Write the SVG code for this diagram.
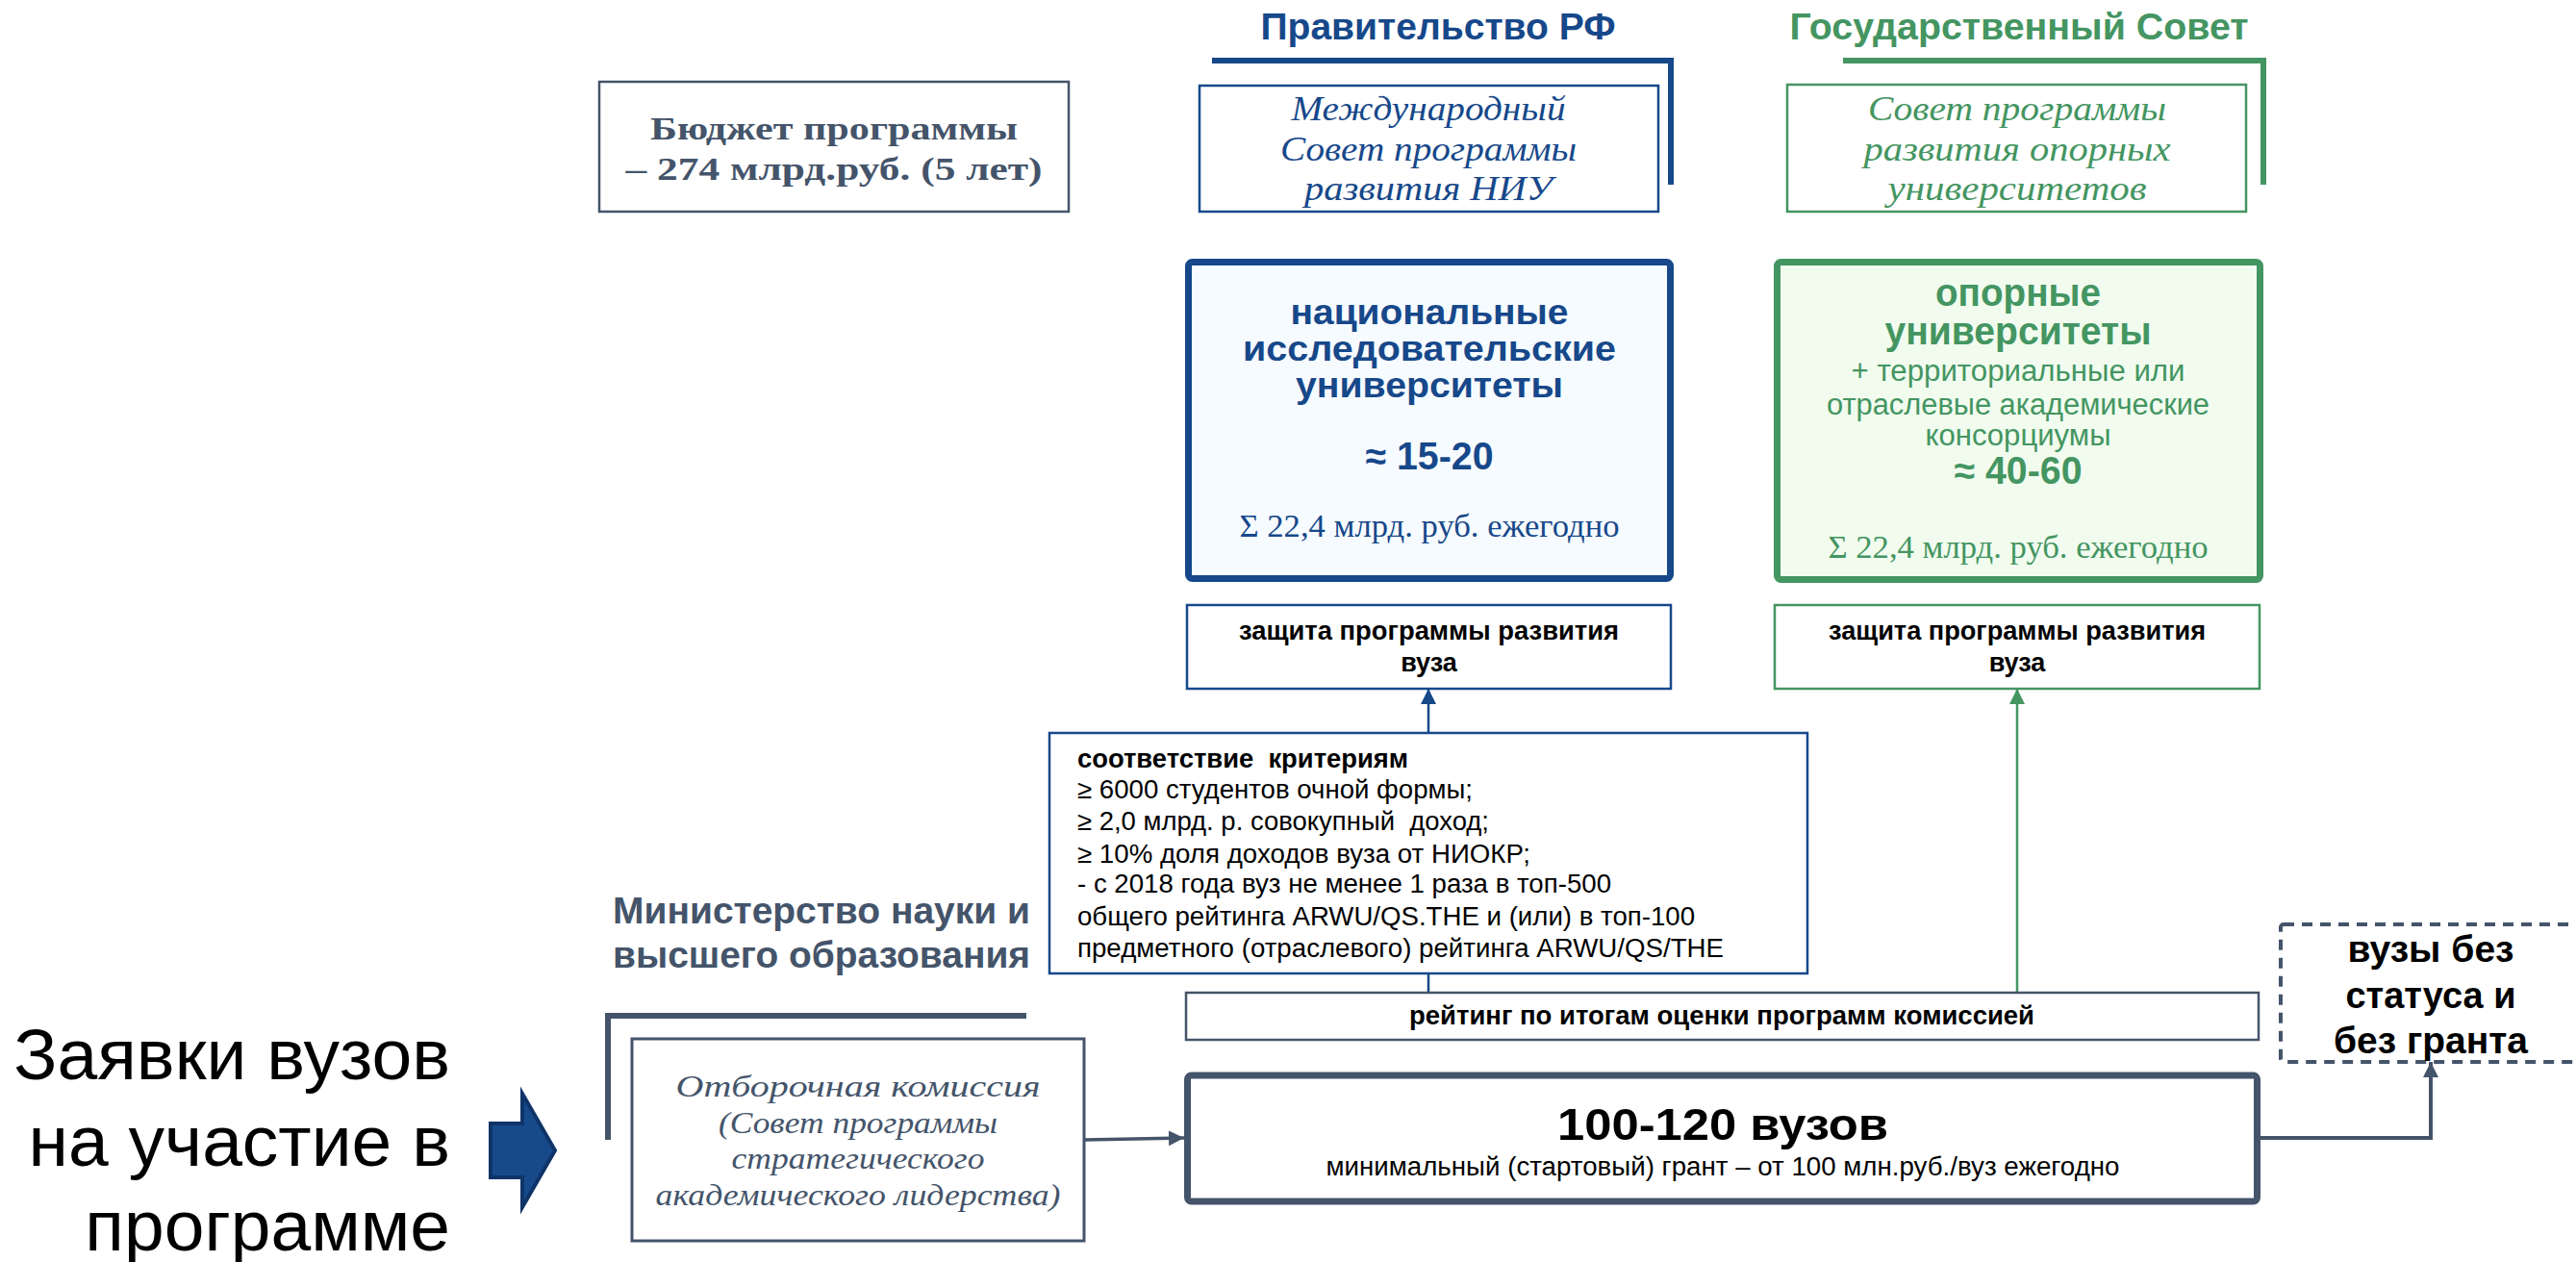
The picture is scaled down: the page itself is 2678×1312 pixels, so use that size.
<svg xmlns="http://www.w3.org/2000/svg" width="2678" height="1312" viewBox="0 0 2678 1312">
<style>
.sans{font-family:"Liberation Sans",Arial,sans-serif}
.serif{font-family:"Liberation Serif","Times New Roman",serif}
.b{font-weight:bold}
.it{font-style:italic}
.c{text-anchor:middle}
.blue{fill:#16488a}
.green{fill:#449561}
.grey{fill:#44546a}
.blk{fill:#000}
.box{fill:#fff}
</style>
<defs>
<marker id="ahBlue" viewBox="0 0 16 16" refX="16" refY="8" markerWidth="16" markerHeight="16" markerUnits="userSpaceOnUse" orient="auto"><path d="M0,0 L16,8 L0,16 z" fill="#16488a"/></marker>
<marker id="ahGreen" viewBox="0 0 16 16" refX="16" refY="8" markerWidth="16" markerHeight="16" markerUnits="userSpaceOnUse" orient="auto"><path d="M0,0 L16,8 L0,16 z" fill="#449561"/></marker>
<marker id="ahGrey" viewBox="0 0 16 16" refX="16" refY="8" markerWidth="16" markerHeight="16" markerUnits="userSpaceOnUse" orient="auto"><path d="M0,0 L16,8 L0,16 z" fill="#44546a"/></marker>
</defs>
<rect width="2678" height="1312" fill="#fff"/>

<g id="connectors" fill="none">
<line x1="1485" y1="1032" x2="1485" y2="1012" stroke="#16488a" stroke-width="2.5"/>
<line x1="1485" y1="762" x2="1485" y2="716" stroke="#16488a" stroke-width="2.5" marker-end="url(#ahBlue)"/>
<line x1="2097" y1="1032" x2="2097" y2="716" stroke="#449561" stroke-width="2.5" marker-end="url(#ahGreen)"/>
<line x1="1127" y1="1185" x2="1231" y2="1183" stroke="#44546a" stroke-width="3.5" marker-end="url(#ahGrey)"/>
<polyline points="2350,1183 2527,1183 2527,1104" stroke="#44546a" stroke-width="4" marker-end="url(#ahGrey)"/>
</g>

<g id="budget">
<rect x="623" y="85" width="488" height="135" class="box" stroke="#44546a" stroke-width="2.5"/>
<text class="serif b c grey" font-size="34" x="867" y="145" textLength="382" lengthAdjust="spacingAndGlyphs">Бюджет программы</text>
<text class="serif b c grey" font-size="34" x="867" y="187" textLength="433" lengthAdjust="spacingAndGlyphs">– 274 млрд.руб. (5 лет)</text>
</g>

<g id="gov-rf">
<text class="sans b c blue" font-size="38" x="1495" y="41" textLength="369" lengthAdjust="spacingAndGlyphs">Правительство РФ</text>
<polyline points="1260,63 1737,63 1737,192" fill="none" stroke="#16488a" stroke-width="6"/>
</g>

<g id="intl-council">
<rect x="1247" y="89" width="477" height="131" class="box" stroke="#16488a" stroke-width="2.5"/>
<text class="serif it c blue" font-size="35" x="1485" y="125" textLength="285" lengthAdjust="spacingAndGlyphs">Международный</text>
<text class="serif it c blue" font-size="35" x="1485" y="167" textLength="308" lengthAdjust="spacingAndGlyphs">Совет программы</text>
<text class="serif it c blue" font-size="35" x="1485" y="208" textLength="258" lengthAdjust="spacingAndGlyphs">развития НИУ</text>
</g>

<g id="state-council">
<text class="sans b c green" font-size="38" x="2099" y="41" textLength="477" lengthAdjust="spacingAndGlyphs">Государственный Совет</text>
<polyline points="1916,63 2353,63 2353,192" fill="none" stroke="#449561" stroke-width="6"/>
</g>

<g id="support-council">
<rect x="1858" y="88" width="477" height="132" class="box" stroke="#449561" stroke-width="2.5"/>
<text class="serif it c green" font-size="35" x="2097" y="125" textLength="310" lengthAdjust="spacingAndGlyphs">Совет программы</text>
<text class="serif it c green" font-size="35" x="2097" y="167" textLength="319" lengthAdjust="spacingAndGlyphs">развития опорных</text>
<text class="serif it c green" font-size="35" x="2097" y="208" textLength="269" lengthAdjust="spacingAndGlyphs">университетов</text>
</g>

<g id="niu">
<rect x="1235.5" y="272.5" width="501" height="329" rx="4" fill="#f6fbff" stroke="#16488a" stroke-width="7"/>
<text class="sans b c blue" font-size="37.5" x="1486" y="337" textLength="289" lengthAdjust="spacingAndGlyphs">национальные</text>
<text class="sans b c blue" font-size="37.5" x="1486" y="375" textLength="388" lengthAdjust="spacingAndGlyphs">исследовательские</text>
<text class="sans b c blue" font-size="37.5" x="1486" y="413" textLength="278" lengthAdjust="spacingAndGlyphs">университеты</text>
<text class="sans b c blue" font-size="40" x="1486" y="488" textLength="133" lengthAdjust="spacingAndGlyphs">≈ 15-20</text>
<text class="serif c blue" font-size="34" x="1486" y="558" textLength="395" lengthAdjust="spacingAndGlyphs">Σ 22,4 млрд. руб. ежегодно</text>
</g>

<g id="support-univ">
<rect x="1847.5" y="272.5" width="502" height="330" rx="4" fill="#f1fcef" stroke="#449561" stroke-width="7"/>
<text class="sans b c green" font-size="40" x="2098" y="318" textLength="172" lengthAdjust="spacingAndGlyphs">опорные</text>
<text class="sans b c green" font-size="40" x="2098" y="358" textLength="277" lengthAdjust="spacingAndGlyphs">университеты</text>
<text class="sans c green" font-size="31" x="2098" y="396" textLength="347" lengthAdjust="spacingAndGlyphs">+ территориальные или</text>
<text class="sans c green" font-size="31" x="2098" y="431" textLength="398" lengthAdjust="spacingAndGlyphs">отраслевые академические</text>
<text class="sans c green" font-size="31" x="2098" y="463" textLength="193" lengthAdjust="spacingAndGlyphs">консорциумы</text>
<text class="sans b c green" font-size="40" x="2098" y="503" textLength="133" lengthAdjust="spacingAndGlyphs">≈ 40-60</text>
<text class="serif c green" font-size="34" x="2098" y="580" textLength="395" lengthAdjust="spacingAndGlyphs">Σ 22,4 млрд. руб. ежегодно</text>
</g>

<g id="defense-niu">
<rect x="1234" y="629" width="503" height="87" class="box" stroke="#16488a" stroke-width="2.5"/>
<text class="sans b c blk" font-size="27" x="1485.5" y="665" textLength="395" lengthAdjust="spacingAndGlyphs">защита программы развития</text>
<text class="sans b c blk" font-size="27" x="1485.5" y="698">вуза</text>
</g>

<g id="defense-support">
<rect x="1845" y="629" width="504" height="87" class="box" stroke="#449561" stroke-width="2.5"/>
<text class="sans b c blk" font-size="27" x="2097" y="665" textLength="392" lengthAdjust="spacingAndGlyphs">защита программы развития</text>
<text class="sans b c blk" font-size="27" x="2097" y="698">вуза</text>
</g>

<g id="criteria">
<rect x="1091" y="762" width="788" height="250" class="box" stroke="#16488a" stroke-width="2.5"/>
<text class="sans b blk" font-size="27" x="1120" y="798" textLength="344" lengthAdjust="spacingAndGlyphs" xml:space="preserve">соответствие  критериям</text>
<text class="sans blk" font-size="27" x="1120" y="830" textLength="411" lengthAdjust="spacingAndGlyphs">≥ 6000 студентов очной формы;</text>
<text class="sans blk" font-size="27" x="1120" y="863" textLength="428" lengthAdjust="spacingAndGlyphs" xml:space="preserve">≥ 2,0 млрд. р. совокупный  доход;</text>
<text class="sans blk" font-size="27" x="1120" y="897" textLength="471" lengthAdjust="spacingAndGlyphs">≥ 10% доля доходов вуза от НИОКР;</text>
<text class="sans blk" font-size="27" x="1120" y="928" textLength="555" lengthAdjust="spacingAndGlyphs">- с 2018 года вуз не менее 1 раза в топ-500</text>
<text class="sans blk" font-size="27" x="1120" y="962" textLength="642" lengthAdjust="spacingAndGlyphs">общего рейтинга ARWU/QS.THE и (или) в топ-100</text>
<text class="sans blk" font-size="27" x="1120" y="995" textLength="672" lengthAdjust="spacingAndGlyphs">предметного (отраслевого) рейтинга ARWU/QS/THE</text>
</g>

<g id="ministry">
<text class="sans b grey" font-size="38" x="637" y="960" textLength="434" lengthAdjust="spacingAndGlyphs">Министерство науки и</text>
<text class="sans b grey" font-size="38" x="637" y="1006" textLength="434" lengthAdjust="spacingAndGlyphs">высшего образования</text>
<polyline points="1067,1056 632,1056 632,1185" fill="none" stroke="#44546a" stroke-width="6"/>
</g>

<g id="rating">
<rect x="1233" y="1032" width="1115" height="49" class="box" stroke="#44546a" stroke-width="2.5"/>
<text class="sans b c blk" font-size="27" x="1790" y="1065" textLength="650" lengthAdjust="spacingAndGlyphs">рейтинг по итогам оценки программ комиссией</text>
</g>

<g id="selection">
<rect x="657" y="1080" width="470" height="210" class="box" stroke="#44546a" stroke-width="3"/>
<text class="serif it c grey" font-size="32" x="892" y="1140" textLength="379" lengthAdjust="spacingAndGlyphs">Отборочная комиссия</text>
<text class="serif it c grey" font-size="32" x="892" y="1178" textLength="290" lengthAdjust="spacingAndGlyphs">(Совет программы</text>
<text class="serif it c grey" font-size="32" x="892" y="1215" textLength="263" lengthAdjust="spacingAndGlyphs">стратегического</text>
<text class="serif it c grey" font-size="32" x="892" y="1253" textLength="421" lengthAdjust="spacingAndGlyphs">академического лидерства)</text>
</g>

<g id="main">
<rect x="1234.5" y="1118" width="1112" height="131" rx="4" class="box" stroke="#44546a" stroke-width="7"/>
<text class="sans b c blk" font-size="47" x="1791" y="1185" textLength="344" lengthAdjust="spacingAndGlyphs">100-120 вузов</text>
<text class="sans c blk" font-size="27" x="1791" y="1222" textLength="825" lengthAdjust="spacingAndGlyphs">минимальный (стартовый) грант – от 100 млн.руб./вуз ежегодно</text>
</g>

<g id="no-status">
<rect x="2371" y="961" width="330" height="143" rx="3" fill="none" stroke="#44546a" stroke-width="4" stroke-dasharray="11 8"/>
<text class="sans b c blk" font-size="39" x="2527" y="1000" textLength="173" lengthAdjust="spacingAndGlyphs">вузы без</text>
<text class="sans b c blk" font-size="39" x="2527" y="1048" textLength="177" lengthAdjust="spacingAndGlyphs">статуса и</text>
<text class="sans b c blk" font-size="39" x="2527" y="1095" textLength="202" lengthAdjust="spacingAndGlyphs">без гранта</text>
</g>

<g id="applications">
<text class="sans blk" font-size="75" x="468" y="1122" text-anchor="end">Заявки вузов</text>
<text class="sans blk" font-size="75" x="468" y="1212" text-anchor="end">на участие в</text>
<text class="sans blk" font-size="75" x="468" y="1300" text-anchor="end">программе</text>
<polygon points="510,1168 543,1168 543,1137 577,1196 543,1255 543,1224 510,1224" fill="#174a8b" stroke="#0f3468" stroke-width="4"/>
</g>
</svg>
